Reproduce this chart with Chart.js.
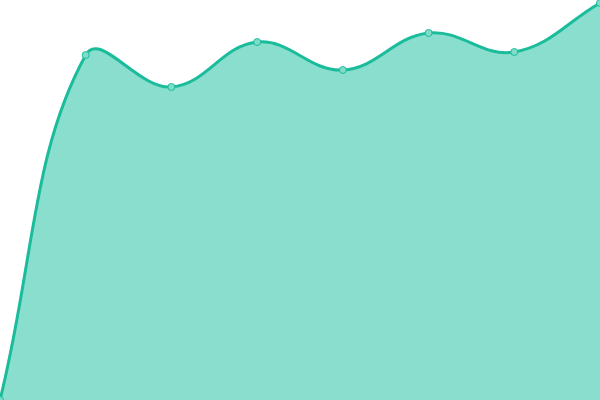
<!DOCTYPE html>
<html>
<head>
<meta charset="utf-8">
<script src="https://cdn.jsdelivr.net/npm/chart.js@4"></script>
<style>
html,body{margin:0;padding:0;background:#fff;}
#wrap{width:600px;height:400px;}
</style>
</head>
<body>
<div id="wrap"><canvas id="c"></canvas></div>
<script>
const labels = ['1', '2', '3', '4', '5', '6', '7', '8'];
const values = [0, 86.25, 78.25, 89.5, 82.5, 91.75, 87, 99.25];

new Chart(document.getElementById('c'), {
  type: 'line',
  data: {
    labels: labels,
    datasets: [{
      data: values,
      borderColor: '#1abc9c',
      backgroundColor: 'rgba(22,190,156,0.5)',
      borderWidth: 3,
      fill: true,
      tension: 0.4,
      pointRadius: 3.5,
      pointBorderWidth: 1,
      pointBackgroundColor: '#7fdcc8',
      pointBorderColor: '#1abc9c'
    }]
  },
  options: {
    responsive: true,
    maintainAspectRatio: false,
    animation: false,
    layout: { padding: 0, autoPadding: false },
    plugins: { legend: { display: false }, tooltip: { enabled: false } },
    scales: {
      x: { display: false },
      y: { display: false, min: 0, max: 100 }
    }
  }
});
</script>
</body>
</html>
